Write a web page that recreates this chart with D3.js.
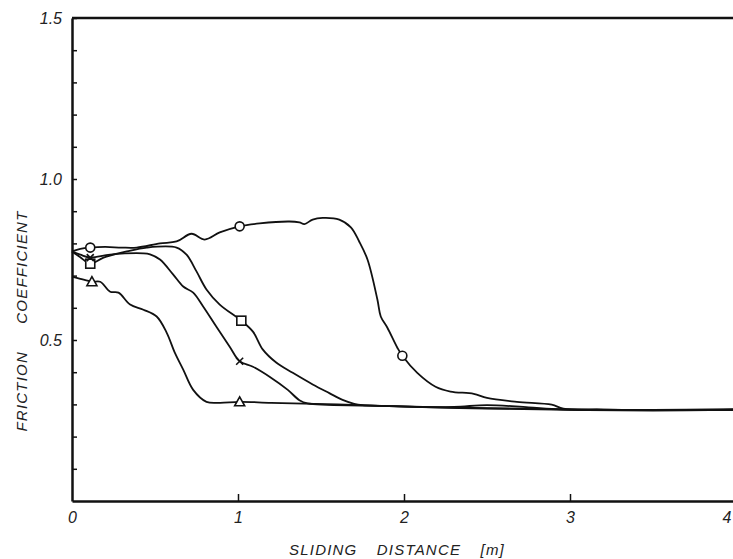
<!DOCTYPE html>
<html>
<head>
<meta charset="utf-8">
<script src="https://cdn.jsdelivr.net/npm/d3@7"></script>
<style>
  body { margin: 0; background: #fff; }
  svg { display: block; }
  .graphic text { font-family: "Liberation Sans", Arial, sans-serif; font-style: italic; fill: #222; }
  .axis path, .axis line { stroke: #111; }
  .curve { fill: none; stroke: #111; stroke-width: 1.8; stroke-linejoin: round; }
  .marker { fill: #fff; stroke: #111; stroke-width: 1.6; }
</style>
</head>
<body>
<div class="graphic"></div>
<script>
// friction coefficient vs sliding distance, four runs
var distCircle = [0, 0.05, 0.11, 0.2, 0.3, 0.39, 0.53, 0.63, 0.72, 0.8, 0.89, 1.01, 1.13, 1.31, 1.37, 1.4, 1.45, 1.51, 1.61, 1.68, 1.73, 1.78, 1.84, 1.86, 1.9, 1.96, 1.99, 2.08, 2.19, 2.28, 2.42, 2.5, 2.68, 2.89, 2.96, 3.2, 3.6, 4.0];
var muCircle = [0.775, 0.783, 0.787, 0.789, 0.787, 0.787, 0.8, 0.806, 0.83, 0.812, 0.834, 0.853, 0.862, 0.868, 0.865, 0.86, 0.874, 0.879, 0.874, 0.85, 0.806, 0.75, 0.625, 0.573, 0.538, 0.476, 0.451, 0.398, 0.355, 0.34, 0.333, 0.32, 0.308, 0.299, 0.287, 0.284, 0.282, 0.284];

var distSquare = [0, 0.05, 0.11, 0.19, 0.33, 0.45, 0.63, 0.69, 0.75, 0.81, 0.89, 1.02, 1.09, 1.15, 1.23, 1.33, 1.45, 1.55, 1.63, 1.7, 1.75, 2.0, 2.3, 2.5, 2.75, 2.95, 3.5, 4.0];
var muSquare = [0.775, 0.757, 0.737, 0.756, 0.775, 0.787, 0.787, 0.765, 0.713, 0.657, 0.61, 0.56, 0.526, 0.47, 0.43, 0.398, 0.362, 0.335, 0.314, 0.302, 0.298, 0.294, 0.292, 0.298, 0.291, 0.285, 0.283, 0.285];

var distCross = [0, 0.05, 0.11, 0.23, 0.43, 0.47, 0.53, 0.61, 0.67, 0.73, 0.79, 0.87, 0.95, 1.01, 1.09, 1.19, 1.3, 1.37, 1.42, 1.8, 2.3, 2.8, 3.3, 4.0];
var muCross = [0.775, 0.765, 0.756, 0.765, 0.769, 0.766, 0.75, 0.703, 0.666, 0.647, 0.604, 0.541, 0.479, 0.434, 0.417, 0.386, 0.345, 0.313, 0.303, 0.296, 0.29, 0.286, 0.283, 0.282];

var distTri = [0, 0.05, 0.12, 0.17, 0.23, 0.28, 0.35, 0.43, 0.51, 0.57, 0.62, 0.67, 0.73, 0.81, 0.89, 1.01, 1.2, 1.6, 2.0, 2.5, 3.0, 3.5, 4.0];
var muTri = [0.697, 0.69, 0.681, 0.681, 0.65, 0.647, 0.61, 0.594, 0.573, 0.523, 0.46, 0.408, 0.345, 0.308, 0.305, 0.308, 0.305, 0.3, 0.293, 0.287, 0.283, 0.281, 0.283];

// where the symbols sit on each curve
var markCircle = [0.11, 1.01, 1.99];
var markSquare = [0.11, 1.02];
var markCross = [0.11, 1.01];
var markTri = [0.12, 1.01];

var xTicks = [0, 1, 2, 3, 4];
var yTicks = [0.1, 0.2, 0.3, 0.4, 0.5, 0.6, 0.7, 0.8, 0.9, 1.0, 1.1, 1.2, 1.3, 1.4, 1.5];
var yLabels = [0.5, 1.0, 1.5];

var width = 733, height = 559;

var svg = d3.select(".graphic").append("svg")
  .attr("width", width)
  .attr("height", height);

var x = d3.scaleLinear().domain([0, 4]).range([72, 736]);
var y = d3.scaleLinear().domain([0, 1.5]).range([501, 18]);

// axes, ticks point inward
var xAxis = d3.axisBottom(x)
  .tickValues(xTicks)
  .tickSizeInner(-7)
  .tickSizeOuter(0)
  .tickPadding(11)
  .tickFormat(d3.format("d"));

var yAxis = d3.axisLeft(y)
  .tickValues(yTicks)
  .tickSizeInner(-5)
  .tickSizeOuter(0)
  .tickPadding(10)
  .tickFormat(function(d) { return yLabels.indexOf(d) >= 0 ? d3.format(".1f")(d) : ""; });

var gx = svg.append("g")
  .attr("class", "axis")
  .attr("transform", "translate(0," + y(0) + ")")
  .call(xAxis);
gx.select(".domain").attr("stroke-width", 2.5);
gx.selectAll(".tick line").attr("stroke-width", 1.5);
gx.selectAll(".tick").filter(function(d) { return d == 0 || d == 4; }).select("line").remove();
gx.selectAll("text").attr("font-size", 16).attr("fill", "#222");
// last label sits at the page edge, keep it inside
gx.selectAll(".tick").filter(function(d) { return d == 4; }).select("text")
  .attr("text-anchor", "end")
  .attr("x", -5);

var gy = svg.append("g")
  .attr("class", "axis")
  .attr("transform", "translate(" + x(0) + ",0)")
  .call(yAxis);
gy.select(".domain").attr("stroke-width", 2.5);
gy.selectAll(".tick line").attr("stroke-width", 1.5);
gy.selectAll("text").attr("font-size", 16).attr("fill", "#222");

// top border
svg.append("line")
  .attr("x1", x(0)).attr("x2", width)
  .attr("y1", y(1.5)).attr("y2", y(1.5))
  .attr("stroke", "#111")
  .attr("stroke-width", 2.5);

// titles
svg.append("text")
  .attr("x", 397).attr("y", 555)
  .attr("text-anchor", "middle")
  .attr("font-size", 15)
  .attr("letter-spacing", 1.2)
  .attr("word-spacing", 14)
  .text("SLIDING DISTANCE [m]");

svg.append("text")
  .attr("transform", "translate(27,321) rotate(-90)")
  .attr("text-anchor", "middle")
  .attr("font-size", 15)
  .attr("letter-spacing", 1.2)
  .attr("word-spacing", 22)
  .text("FRICTION COEFFICIENT");

var line = d3.line()
  .x(function(d) { return x(d[0]); })
  .y(function(d) { return y(d[1]); })
  .curve(d3.curveCatmullRom.alpha(0.5));

var series = [
  { dist: distCircle, mu: muCircle, marks: markCircle, shape: "circle" },
  { dist: distSquare, mu: muSquare, marks: markSquare, shape: "square" },
  { dist: distCross, mu: muCross, marks: markCross, shape: "cross" },
  { dist: distTri, mu: muTri, marks: markTri, shape: "triangle" }
];

series.forEach(function(s) {
  var pts = s.dist.map(function(d, i) { return [d, s.mu[i]]; });

  svg.append("path")
    .attr("class", "curve")
    .attr("d", line(pts));

  var markPts = s.marks.map(function(m) { return pts[s.dist.indexOf(m)]; });

  var g = svg.append("g").selectAll("g")
    .data(markPts)
    .enter()
    .append("g")
    .attr("transform", function(d) { return "translate(" + x(d[0]) + "," + y(d[1]) + ")"; });

  if (s.shape == "circle") {
    g.append("circle").attr("class", "marker").attr("r", 4.5);
  } else if (s.shape == "square") {
    g.append("rect").attr("class", "marker")
      .attr("x", -4.5).attr("y", -4.5).attr("width", 9).attr("height", 9);
  } else if (s.shape == "cross") {
    g.append("path").attr("class", "marker")
      .attr("d", "M-3.5,-3.5L3.5,3.5M-3.5,3.5L3.5,-3.5")
      .attr("stroke-width", 1.8);
  } else {
    g.append("path").attr("class", "marker")
      .attr("d", "M0,-5L5,4L-5,4Z");
  }
});
</script>
</body>
</html>
